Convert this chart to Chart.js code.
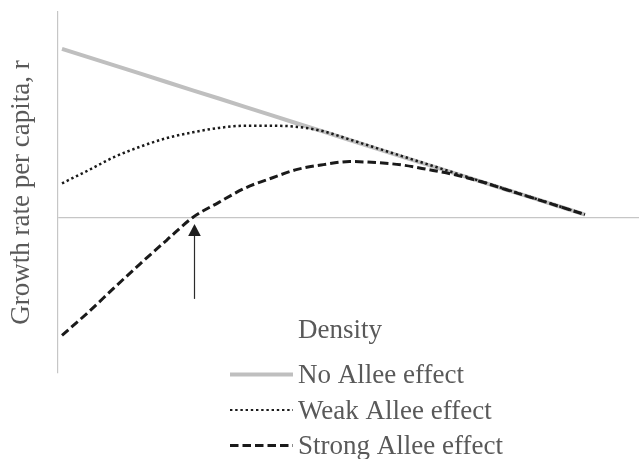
<!DOCTYPE html>
<html>
<head>
<meta charset="utf-8">
<script src="https://cdn.jsdelivr.net/npm/chart.js@4.4.1/dist/chart.umd.min.js"></script>
<style>
  html, body { margin: 0; padding: 0; background: #ffffff; }
  #wrap { width: 639px; height: 459px; }
</style>
</head>
<body>
<div id="wrap"><canvas id="chart" width="639" height="459"></canvas></div>
<script>
// Population density (arbitrary units)
const density = [0, 0.5, 1, 1.5, 2, 2.5, 3, 3.5, 4, 4.5, 5, 5.5, 6, 6.5, 7, 7.5, 8, 8.5, 9, 9.5, 10];

// Per-capita growth rate for each scenario
const noAllee = [0.995, 0.946, 0.898, 0.849, 0.800, 0.751, 0.703, 0.654, 0.605, 0.556, 0.508,
                 0.459, 0.410, 0.361, 0.313, 0.264, 0.215, 0.166, 0.118, 0.069, 0.020];
const weakAllee = [0.204, 0.280, 0.359, 0.420, 0.470, 0.504, 0.530, 0.543, 0.543, 0.536, 0.510,
                   0.462, 0.413, 0.364, 0.315, 0.266, 0.217, 0.168, 0.119, 0.070, 0.020];
const strongAllee = [-0.691, -0.555, -0.410, -0.268, -0.131, 0.003, 0.092, 0.176, 0.234, 0.286, 0.314,
                     0.332, 0.326, 0.312, 0.285, 0.255, 0.215, 0.166, 0.118, 0.069, 0.020];

const seriesNames = ['No Allee effect', 'Weak Allee effect', 'Strong Allee effect'];
const xTitle = 'Density';
const yTitle = 'Growth rate per capita, r';

// Arrow marking the Allee threshold on the strong curve
const thresholdDensity = 2.53;
const arrowTail = -0.476;
const arrowTip = -0.035;

const TEXT = '#595959';
const AXIS = '#c6c6c6';
const SERIF = '"Liberation Serif", "Times New Roman", serif';

const toPoints = (ys) => ys.map((y, i) => ({ x: density[i], y }));

const decorations = {
  id: 'decorations',
  afterDatasetsDraw(chart) {
    const { ctx, scales: { x, y } } = chart;
    const px = Math.round(x.getPixelForValue(thresholdDensity)) + 0.5;
    const yTail = y.getPixelForValue(arrowTail);
    const yTip = y.getPixelForValue(arrowTip);
    const headLen = 12, headHalf = 6.3;
    ctx.save();
    ctx.strokeStyle = '#2b2b2b';
    ctx.fillStyle = '#1e1e1e';
    ctx.lineWidth = 1.2;
    ctx.beginPath();
    ctx.moveTo(px, yTail);
    ctx.lineTo(px, yTip + headLen - 1);
    ctx.stroke();
    ctx.beginPath();
    ctx.moveTo(px, yTip);
    ctx.lineTo(px - headHalf, yTip + headLen);
    ctx.lineTo(px + headHalf, yTip + headLen);
    ctx.closePath();
    ctx.fill();
    ctx.restore();
  },
  afterDraw(chart) {
    const { ctx } = chart;
    const textX = 298;
    ctx.save();
    ctx.font = '27px ' + SERIF;
    ctx.fillStyle = TEXT;
    ctx.textAlign = 'left';
    ctx.textBaseline = 'alphabetic';
    ctx.fillText(xTitle, textX, 338);

    // Legend: one row per series, sample line then label
    const baselines = [383, 418.5, 454];
    const sampleWidths = [4, 1.8, 3];
    chart.data.datasets.forEach((ds, i) => {
      const ly = baselines[i] - 8.5;
      ctx.save();
      ctx.strokeStyle = ds.borderColor;
      ctx.lineWidth = sampleWidths[i];
      ctx.setLineDash(ds.borderDash || []);
      ctx.lineCap = 'butt';
      ctx.beginPath();
      ctx.moveTo(230, ly);
      ctx.lineTo(293, ly);
      ctx.stroke();
      ctx.restore();
      ctx.fillText(ds.label, textX, baselines[i]);
    });
    ctx.restore();
  }
};

new Chart(document.getElementById('chart'), {
  type: 'line',
  data: {
    datasets: [
      {
        label: seriesNames[0],
        data: toPoints(noAllee),
        borderColor: '#bfbfbf',
        borderWidth: 4,
        pointRadius: 0,
        tension: 0,
        order: 3
      },
      {
        label: seriesNames[1],
        data: toPoints(weakAllee),
        borderColor: '#1a1a1a',
        borderWidth: 2.5,
        borderDash: [2.4, 2.8],
        pointRadius: 0,
        cubicInterpolationMode: 'monotone',
        order: 2
      },
      {
        label: seriesNames[2],
        data: toPoints(strongAllee),
        borderColor: '#1a1a1a',
        borderWidth: 3,
        borderDash: [8.5, 4],
        pointRadius: 0,
        cubicInterpolationMode: 'monotone',
        order: 1
      }
    ]
  },
  options: {
    responsive: false,
    animation: false,
    devicePixelRatio: 1,
    layout: { padding: { top: 12, right: 0, bottom: 86, left: 0 } },
    plugins: {
      legend: { display: false },
      tooltip: { enabled: false }
    },
    scales: {
      x: {
        type: 'linear',
        min: -0.0765,
        max: 11.033,
        display: false
      },
      y: {
        type: 'linear',
        min: -0.912,
        max: 1.212,
        afterBuildTicks: (scale) => { scale.ticks = [{ value: 0 }]; },
        afterFit: (scale) => { scale.width = 58; },
        ticks: { display: false },
        grid: { color: AXIS, lineWidth: 1.2, drawTicks: false },
        border: { display: true, color: AXIS, width: 1.2 },
        title: {
          display: true,
          text: yTitle,
          color: TEXT,
          font: { family: SERIF, size: 27 },
          padding: { top: 6, bottom: 0 }
        }
      }
    }
  },
  plugins: [decorations]
});
</script>
</body>
</html>
